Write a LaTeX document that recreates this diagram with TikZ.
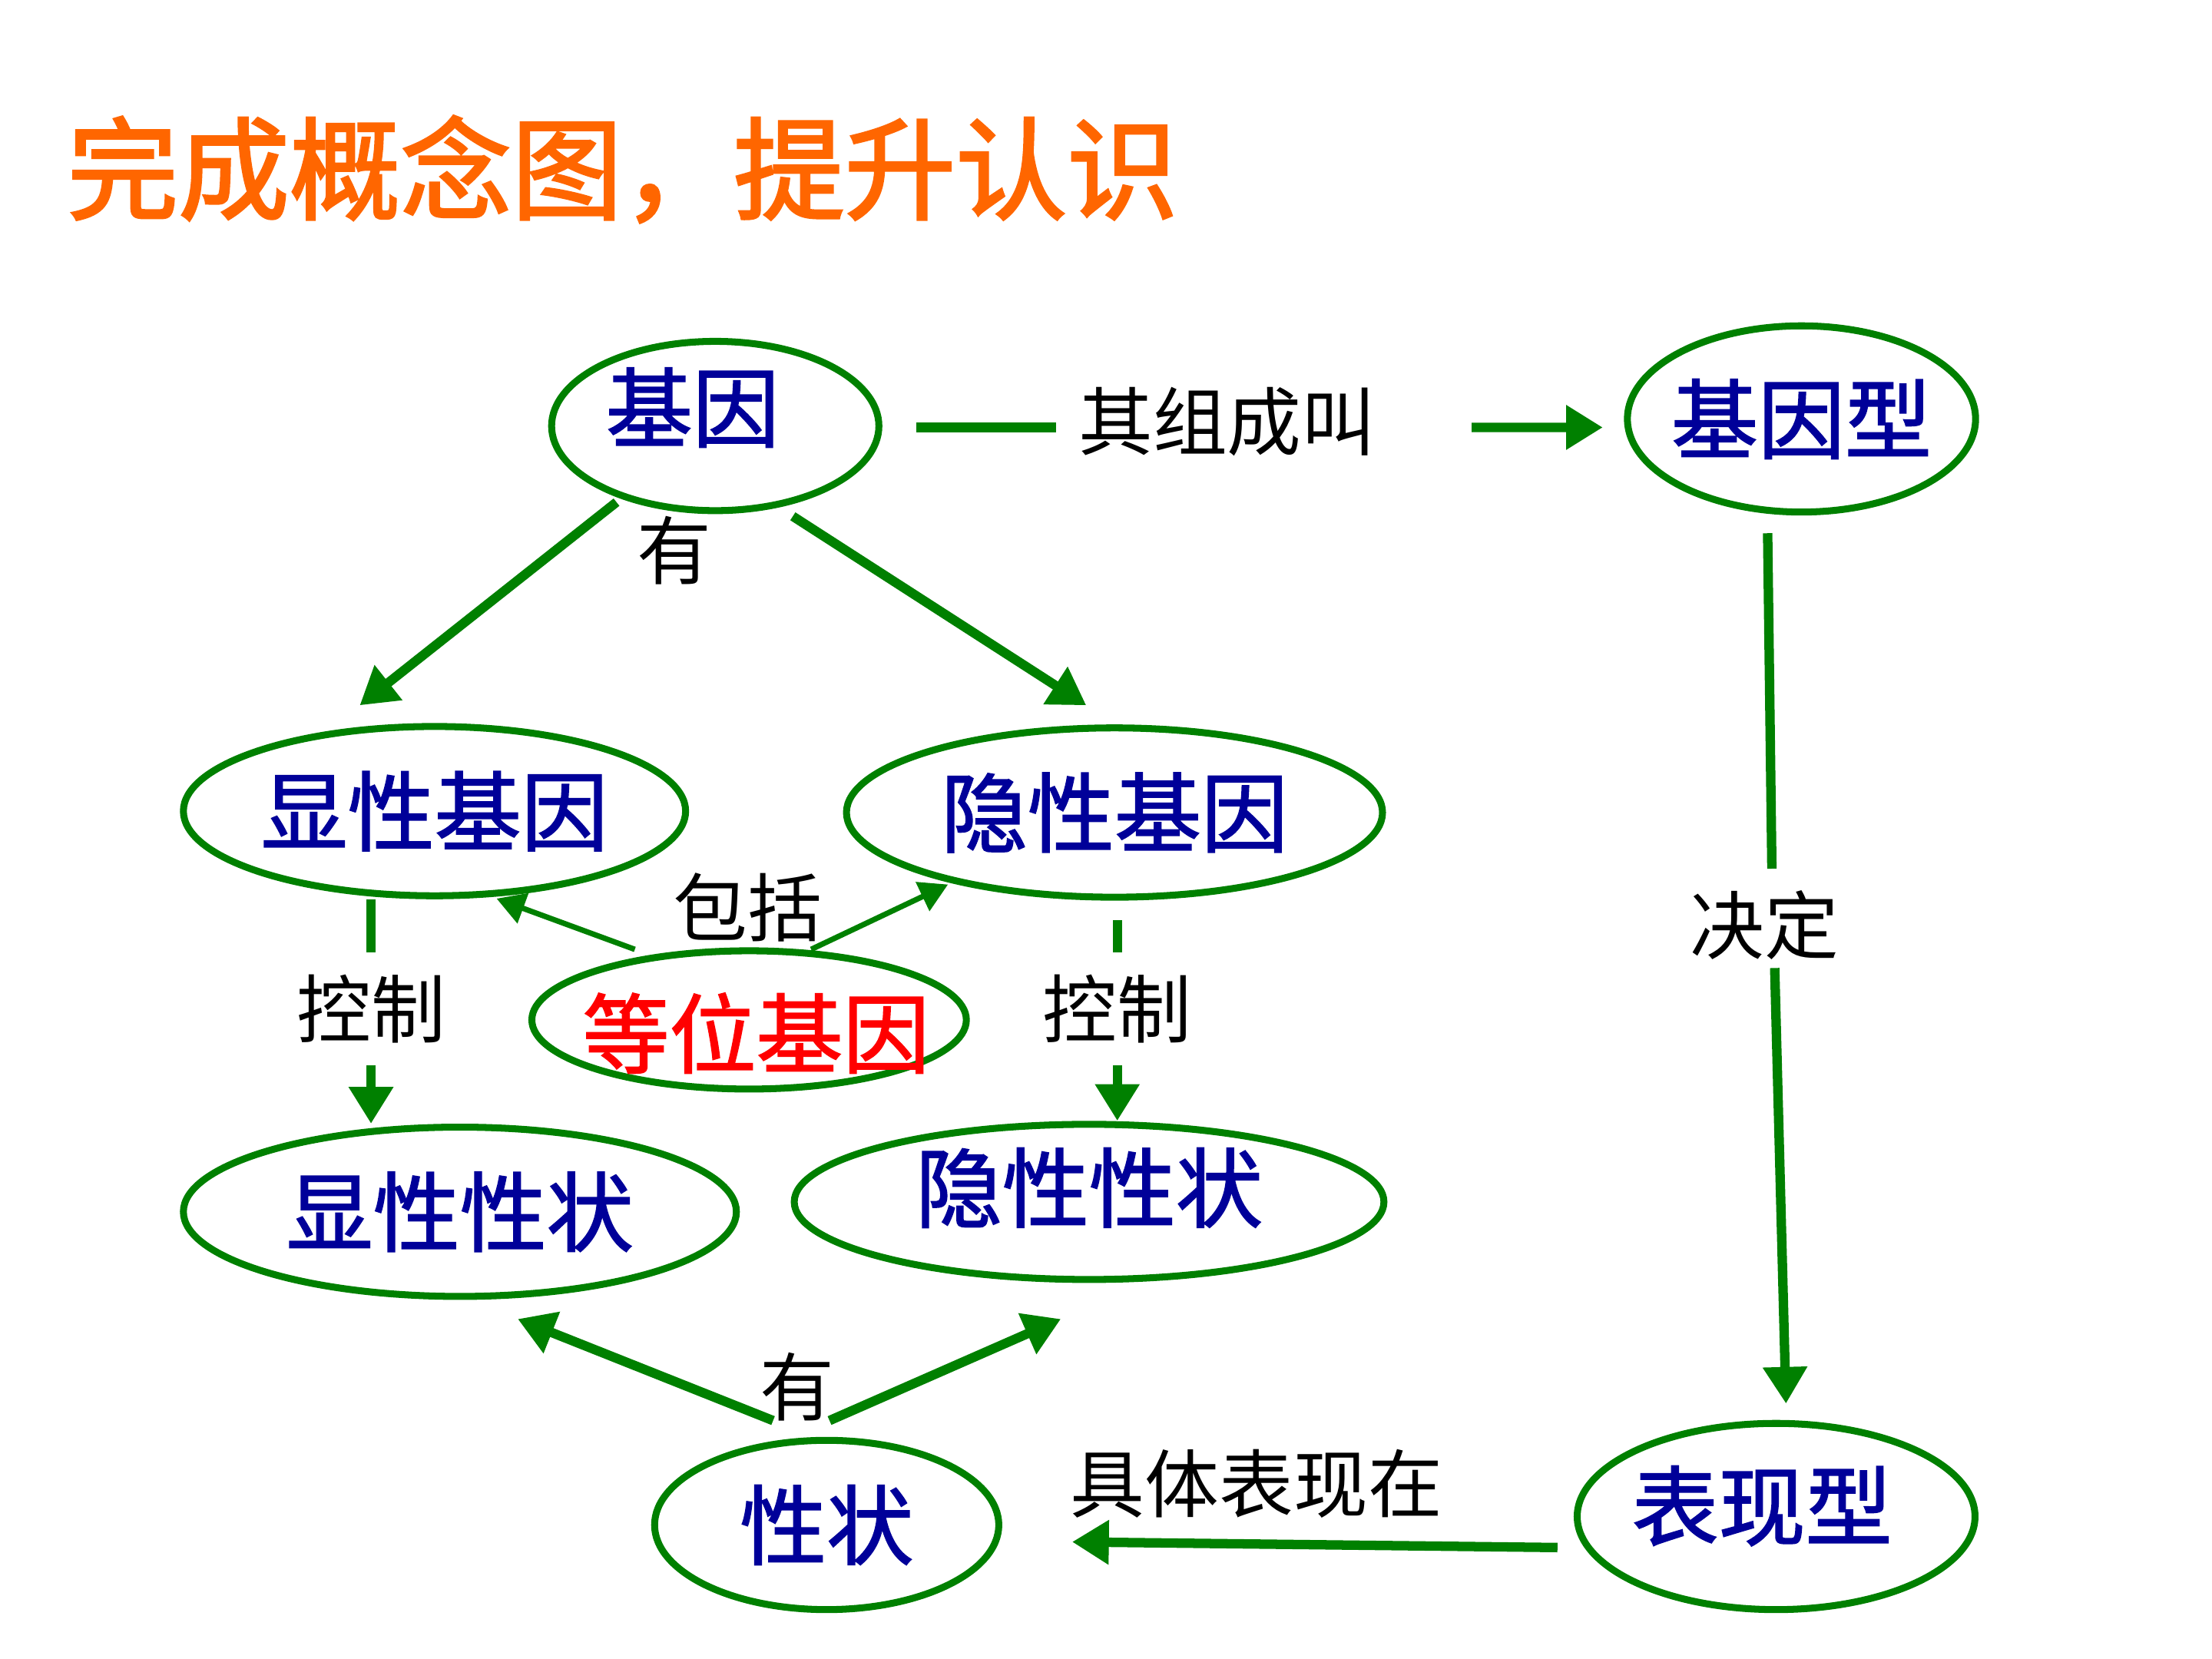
\documentclass[tikz,border=0pt]{standalone}
\usepackage{fontspec}
\setmainfont{Noto Sans CJK SC}
\newfontfamily\conceptfont{Noto Sans CJK SC}[FakeBold=1.6]
\newfontfamily\titlefont{Noto Sans CJK SC}[FakeBold=2.2]
\usetikzlibrary{shapes.geometric,arrows.meta,calc}
\definecolor{linegreen}{RGB}{0,128,0}
\definecolor{textblue}{RGB}{0,0,153}
\definecolor{titleorange}{RGB}{255,102,0}

\begin{document}
\begin{tikzpicture}[
  concept/.style={ellipse,draw=linegreen,line width=1.4pt,inner sep=0pt,text=textblue,font=\fontsize{17.5}{20}\conceptfont},
  linktext/.style={inner sep=0.15cm,font=\fontsize{15}{18}\selectfont},
  link/.style={draw=linegreen,line width=1.9pt},
  linkarrow/.style={link,-{Triangle[length=0.26cm,width=0.3cm]}},
  linkthin/.style={draw=linegreen,line width=1.1pt,-{Triangle[length=0.2cm,width=0.22cm]}},
]

\fill[white] (0,0) rectangle (15.68,11.76);

% title
\node[anchor=west,inner sep=0pt,text=titleorange,font=\fontsize{22.4}{26}\titlefont] (title) at (0.47,10.56) {完成概念图，提升认识};

% concepts
\node[concept,minimum width=2.32cm,minimum height=1.2cm,text depth=0.31cm] (jy) at (5.07,8.74) {\makebox[0pt]{\hspace*{-0.32cm}基因}};
\node[concept,minimum width=2.44cm,minimum height=1.32cm,inner xsep=-0.5mm] (jyx) at (12.77,8.79) {基因型};
\node[concept,minimum width=3.56cm,minimum height=1.2cm] (xj) at (3.08,6.01) {显性基因};
\node[concept,minimum width=3.80cm,minimum height=1.2cm] (yj) at (7.90,6.00) {隐性基因};
\node[concept,minimum width=3.08cm,minimum height=0.98cm,text=red,text height=0.66cm,text depth=0cm] (dw) at (5.31,4.53) {\makebox[0pt]{\hspace*{0.1cm}等位基因}};
\node[concept,minimum width=3.92cm,minimum height=1.2cm] (xz) at (3.26,3.17) {显性性状};
\node[concept,minimum width=4.18cm,minimum height=1.1cm,text depth=0.25cm] (yz) at (7.72,3.24) {隐性性状};
\node[concept,minimum width=2.44cm,minimum height=1.2cm] (xzh) at (5.86,0.95) {性状};
\node[concept,minimum width=2.82cm,minimum height=1.32cm,text depth=0.2cm] (bxx) at (12.59,1.01) {\makebox[0pt]{\hspace*{-0.2cm}表现型}};

% link words
\node[linktext] (you1) at (4.78,7.86) {有};
\node[linktext] (zc) at (8.70,8.77) {其组成叫};
\node[linktext] (jd) at (12.51,5.20) {决定};
\node[linktext] (bk) at (5.30,5.33) {包括};
\node[linktext] (kz1) at (2.63,4.61) {控制};
\node[linktext] (kz2) at (7.92,4.61) {控制};
\node[linktext] (you2) at (5.65,1.93) {有};

% gene has
\draw[linkarrow] ($(jy)+(-0.70,-0.54)$) -- ($(xj)+(-0.53,0.75)$);
\draw[linkarrow] ($(jy)+(0.55,-0.64)$) -- ($(yj)+(-0.20,0.76)$);

% genotype
\draw[link] ($(jy.east)+(0.24,-0.01)$) -- ($(zc.west)+(0,-0.04)$);
\draw[linkarrow] ($(zc.east)+(0.52,-0.04)$) -- ($(jyx.west)+(-0.15,-0.06)$);

% genotype decides phenotype
\draw[link] ($(jyx)+(-0.24,-0.81)$) -- ($(jd.north)+(0.05,0)$);
\draw[linkarrow] ($(jd.south)+(0.07,0.1)$) -- ($(bxx)+(0.07,0.80)$);

% phenotype
\draw[linkarrow] ($(bxx)+(-1.55,-0.22)$) -- node[linktext,pos=0.62,above] (jbx) {具体表现在} ($(xzh)+(1.74,-0.12)$);

% traits
\draw[linkarrow] ($(xzh)+(-0.38,0.74)$) -- ($(xz)+(0.41,-0.76)$);
\draw[linkarrow] ($(xzh)+(0.02,0.74)$) -- ($(yz)+(-0.20,-0.83)$);

% alleles
\draw[linkthin] ($(dw)+(-0.81,0.50)$) -- ($(xj)+(0.44,-0.62)$);
\draw[linkthin] ($(dw)+(0.44,0.50)$) -- ($(yj)+(-1.18,-0.51)$);

% control
\draw[link] (xj.south -| kz1) -- (kz1.north);
\draw[linkarrow] (kz1.south) -- (xz.north -| kz1);
\draw[link] ($(yj.south -| kz2)+(0,-0.14)$) -- (kz2.north);
\draw[linkarrow] (kz2.south) -- (yz.north -| kz2);

\end{tikzpicture}
\end{document}
